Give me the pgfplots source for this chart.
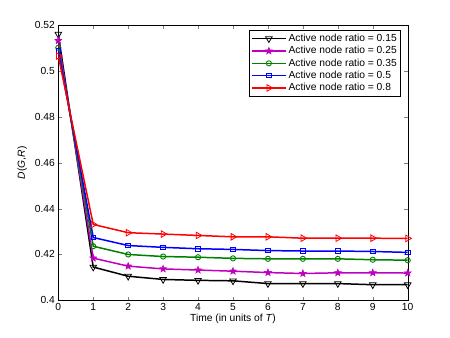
\documentclass[border=0pt]{standalone}
\usepackage{fontspec}
\setmainfont{Liberation Sans}
\usepackage{pgfplots}
\pgfplotsset{compat=1.18}
\definecolor{mlblack}{RGB}{0,0,0}
\definecolor{mlmag}{RGB}{191,0,191}
\definecolor{mlgreen}{RGB}{0,128,0}
\definecolor{mlblue}{RGB}{0,0,255}
\definecolor{mlred}{RGB}{255,0,0}

% five-point star outline, like the pentagram mark
\pgfdeclareplotmark{pentagram}{%
  \pgfpathmoveto{\pgfqpointpolar{90}{\pgfplotmarksize}}%
  \foreach \a in {1,...,9}{%
    \pgfmathsetmacro\ang{90+36*\a}%
    \ifodd\a
      \pgfpathlineto{\pgfqpointpolar{\ang}{0.42\pgfplotmarksize}}%
    \else
      \pgfpathlineto{\pgfqpointpolar{\ang}{\pgfplotmarksize}}%
    \fi}%
  \pgfpathclose
  \pgfusepathqfillstroke}

\begin{document}
\begin{tikzpicture}
\useasboundingbox (-58.3bp,-37.7bp) rectangle (391.7bp,300.3bp);
\begin{axis}[
  scale only axis, width=349.4bp, height=275bp,
  xmin=0, xmax=10, ymin=0.4, ymax=0.52,
  xtick={0,...,10}, ytick={0.4,0.42,...,0.52},
  tick align=inside, tick pos=both, major tick length=3.5bp,
  font=\fontsize{10.3}{12}\selectfont,
  tick label style={font=\fontsize{10.3}{12}\selectfont},
  /pgf/number format/assume math mode=true,
  yticklabel style={/pgf/number format/fixed, /pgf/number format/precision=2},
  xlabel={Time (in units of \textit{T})}, ylabel={\textit{D}(\textit{G},\textit{R})},
  xlabel style={yshift=4bp}, ylabel style={yshift=1bp},
  legend style={at={(0.98,0.982)}, anchor=north east, font=\fontsize{10.3}{12}\selectfont,
    cells={anchor=west}, row sep=-0.6pt, inner sep=1.8pt},
  legend image code/.code={\draw[mark repeat=2,mark phase=2] plot coordinates {(0cm,0cm)(0.6cm,0cm)(1.2cm,0cm)};},
  every axis plot/.append style={line width=1.5pt},
]
\addplot[color=mlblack, mark=triangle, mark size=3.8pt, mark options={solid, line width=0.8pt, fill=none, rotate=180}] coordinates {
(0,0.5161)(1,0.4145)(2,0.4105)(3,0.4091)(4,0.4087)(5,0.4085)(6,0.4073)(7,0.4073)(8,0.4073)(9,0.4068)(10,0.4068)};
\addlegendentry{Active node ratio = 0.15}
\addplot[color=mlmag, mark=pentagram, mark size=3.6pt, mark options={solid, line width=0.6pt, fill=mlmag}] coordinates {
(0,0.5133)(1,0.4184)(2,0.4149)(3,0.4137)(4,0.4132)(5,0.4127)(6,0.4121)(7,0.4117)(8,0.4120)(9,0.4120)(10,0.4119)};
\addlegendentry{Active node ratio = 0.25}
\addplot[color=mlgreen, mark=o, mark size=2.6pt, mark options={solid, line width=0.9pt, fill=none}] coordinates {
(0,0.5102)(1,0.4236)(2,0.4200)(3,0.4191)(4,0.4188)(5,0.4183)(6,0.4181)(7,0.4181)(8,0.4181)(9,0.4177)(10,0.4175)};
\addlegendentry{Active node ratio = 0.35}
\addplot[color=mlblue, mark=square, mark size=2.3pt, mark options={solid, line width=0.9pt, fill=none}] coordinates {
(0,0.5089)(1,0.4274)(2,0.4239)(3,0.4231)(4,0.4225)(5,0.4222)(6,0.4217)(7,0.4215)(8,0.4215)(9,0.4213)(10,0.4209)};
\addlegendentry{Active node ratio = 0.5}
\addplot[color=mlred, mark=triangle, mark size=3.8pt, mark options={solid, line width=0.8pt, fill=none, rotate=-90}] coordinates {
(0,0.5066)(1,0.4331)(2,0.4295)(3,0.4289)(4,0.4283)(5,0.4277)(6,0.4277)(7,0.4271)(8,0.4271)(9,0.4271)(10,0.4270)};
\addlegendentry{Active node ratio = 0.8}
\end{axis}
\end{tikzpicture}
\end{document}
